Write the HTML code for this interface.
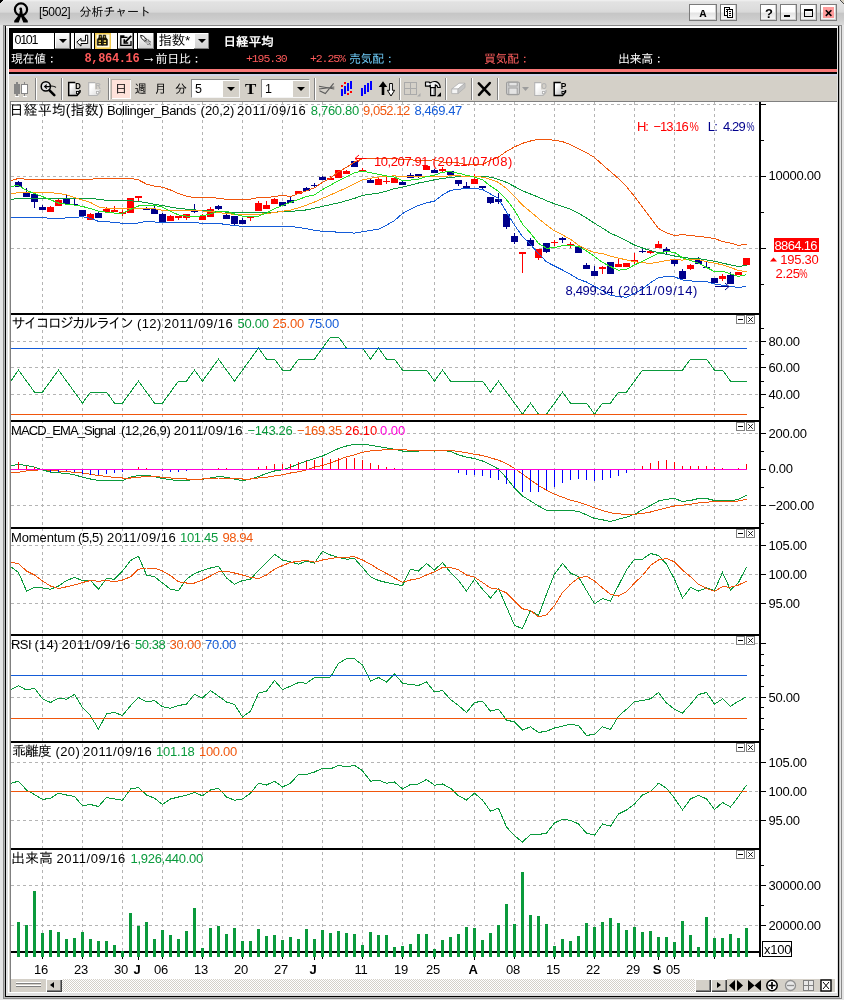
<!DOCTYPE html>
<html lang="ja"><head><meta charset="utf-8"><title>[5002] 分析チャート</title>
<style>
html,body{margin:0;padding:0;}
body{width:844px;height:1000px;overflow:hidden;background:#d4d0c8;position:relative;
font-family:"Liberation Sans","IPAGothic",sans-serif;font-size:13px;color:#000;}
.a{position:absolute;}

#tb{left:0;top:0;width:844px;height:25px;background:linear-gradient(#f2f2f2 0,#e2e2e2 2px,#dedede 8px,#d8d8d8 12px,#c6c6c6 13.5px,#cccccc 19px,#dadada 25px);}
#frame{left:0;top:25px;width:844px;height:975px;background:#e4e4e4;}
.wb{top:4px;height:15px;background:linear-gradient(#ffffff 0,#fdfdfd 45%,#e4e4e4 55%,#f8f8f8 100%);border:1px solid #7b7b7b;box-sizing:border-box;height:17px;box-shadow:inset -1px -1px 0 #d0d0d0;}
#info{left:9px;top:28px;width:828px;height:46px;background:#000;}
#redl{left:9px;top:69px;width:828px;height:3px;background:#f87878;}
#lav{left:9px;top:74px;width:828px;height:2px;background:#d0d3e8;}
#tool{left:9px;top:76px;width:828px;height:25px;background:#d4d0c8;}
.t{position:absolute;white-space:pre;line-height:1;}
.btn{position:absolute;top:33px;height:16px;background:linear-gradient(#ffffff,#e8e8e8 50%,#d0d0d0);box-shadow:inset -1px -1px 0 #808080, inset 1px 1px 0 #fff;}
.wsep{position:absolute;top:33px;height:16px;background:#fff;}
.sep{position:absolute;top:78px;width:1px;height:22px;background:#808080;box-shadow:1px 0 0 #fff;}
.cmb{position:absolute;top:79px;height:19px;background:#fff;box-sizing:border-box;border:1px solid #8a8a8a;border-right-color:#f4f4f4;border-bottom-color:#f4f4f4;}
.dd{position:absolute;top:1px;right:0px;width:16px;height:16px;background:#d4d0c8;}
.dd:after{content:"";position:absolute;left:4px;top:6px;border:4px solid transparent;border-top:4px solid #000;border-bottom:0;}
.arr:after{content:"";position:absolute;left:4px;top:6px;border:4px solid transparent;border-top:4px solid #000;border-bottom:0;}
.arr{position:absolute;}

</style></head><body>
<div class="a" id="tb"></div>
<div class="a" id="frame"></div>
<svg class="a" style="left:0;top:0" width="844" height="1000" viewBox="0 0 844 1000" shape-rendering="crispEdges"><path d="M0,0 h3 l-3,3z" fill="#000"/><path d="M844,0 h-3.5 l3.5,3.5z" fill="#d6cfc0"/><path d="M840,0 l4,4" stroke="#4a4a4a" stroke-width="1" fill="none" shape-rendering="auto"/><rect x="3.5" y="25.5" width="838" height="973" fill="none" stroke="#8a8a8a"/><path d="M4.5,26 V997.5 H839.5 V26" fill="none" stroke="#b4b4b4"/><path d="M5.5,26 V996.5 H838.5 V26" fill="none" stroke="#000"/><rect x="6" y="26" width="832" height="970" fill="#e0e0e0"/><rect x="6" y="26" width="832" height="2" fill="#fcfcfc"/><rect x="8" y="27" width="829" height="966" fill="#fff"/><rect x="9" y="76" width="828" height="916" fill="#d4d0c8"/></svg>
<svg class="a" style="left:12px;top:1px" width="20" height="23" viewBox="0 0 20 23"><circle cx="9" cy="8.5" r="6.1" fill="none" stroke="#000" stroke-width="2.2"/><circle cx="8.700" cy="8" r="1.4" fill="#000"/><path d="M8.2,8 L10,8 L10.800,13.5 L15.800,19.800 V21.5 H11.3 L9,15.5 L6.700,21.5 H2.2 V19.800 L7.2,13.5z" fill="#000"/></svg>
<div class="t " style="left:39px;top:6px;font-size:12px;color:#000;letter-spacing:-0.35px;">[5002]</div>
<div class="t " style="left:79.5px;top:6px;font-size:12px;color:#000;letter-spacing:-0.1px;">分析チャート</div>
<div class="a wb" style="left:689px;width:28px"><div class="t" style="left:9.5px;top:2px;font:bold 11.5px 'Liberation Mono',monospace">A</div></div>
<div class="a wb" style="left:720px;width:17px"><svg width="15" height="15" viewBox="0 0 15 15" style="position:absolute;left:0;top:0" shape-rendering="crispEdges"><rect x="3.5" y="2.5" width="5" height="8" fill="#fff" stroke="#000"/><rect x="6.5" y="4.5" width="5" height="8" fill="#fff" stroke="#000"/><path d="M8,6.5h2M8,8.5h2M8,10.5h2M5,4.5h1M5,6.5h1" stroke="#000"/></svg></div>
<div class="a wb" style="left:760px;width:17px"><div class="t" style="left:4px;top:1px;font:bold 13px 'Liberation Sans',sans-serif">?</div></div>
<div class="a wb" style="left:780px;width:17px"><div class="a" style="left:3px;top:10px;width:6px;height:2px;background:#000"></div></div>
<div class="a wb" style="left:800px;width:17px"><div class="a" style="left:3px;top:4px;width:9px;height:8px;border:1px solid #000;border-top-width:2px;box-sizing:border-box"></div></div>
<div class="a wb" style="left:820px;width:17px"><div class="a" style="left:2px;top:2px;width:11px;height:11px;background:#ff9c9c"></div><svg width="15" height="15" viewBox="0 0 15 15" style="position:absolute;left:0;top:0"><path d="M4.8,5.3 l5.6,5.6 M10.4,5.3 l-5.6,5.6" stroke="#000" stroke-width="1.5"/></svg></div>
<div class="a" id="info"></div><div class="a" id="redl"></div><div class="a" id="lav"></div>
<div class="a" style="left:13px;top:33px;width:41px;height:16px;background:#fff"></div>
<div class="t " style="left:14.6px;top:34.3px;font-size:12.5px;color:#000;letter-spacing:-1.35px;">0101</div>
<div class="btn" style="left:55px;width:15px"><div class="arr" style="left:0;top:0"></div></div>
<div class="wsep" style="left:71px;width:3px"></div>
<div class="btn" style="left:75px;width:16px"></div>
<div class="wsep" style="left:92px;width:2px"></div>
<div class="btn" style="left:95px;width:16px;background:#fffbe0;box-shadow:inset 0 0 0 1.5px #f4cc50"></div>
<div class="wsep" style="left:111px;width:6px"></div>
<div class="btn" style="left:118px;width:15px"></div>
<div class="wsep" style="left:134px;width:3px"></div>
<div class="btn" style="left:138px;width:16px"></div>
<svg class="a" style="left:0;top:0" width="220" height="52" viewBox="0 0 220 52"><path d="M85.5,35.2 h2.2 v8.3 h-6.700 v2.6 l-4.2,-3.900 l4.2,-3.900 v2.6 h4.5z" fill="#fff" stroke="#000" stroke-width="1"/><path d="M97.3,45.3 v-5.800 l1.700,-2.3 v-2 h2.6 v2 l1,1.4 v6.700z M107.4,45.3 v-5.800 l-1.700,-2.3 v-2 h-2.6 v2 l-1,1.4 v6.700z" fill="#1a1400" stroke="#000" stroke-width="0.6"/><path d="M98.6,40.3 h2.4 v1.5 h-2.4z M103.700,40.3 h2.4 v1.5 h-2.4z M98.6,43 h2.4 v1.3 h-2.4z M103.700,43 h2.4 v1.3 h-2.4z M99.800,36.3 h1 v1.2 h-1z M103.900,36.3 h1 v1.2 h-1z" fill="#ffe468"/><path d="M120.800,37.3 v-1.3 h3 v1.3 M127.5,37.3 H120.800 V45.3 H131 V41" fill="none" stroke="#000" stroke-width="1.3"/><path d="M131.3,35.800 L125.5,41.800 M124.3,39.3 V43 H128.2" fill="none" stroke="#000" stroke-width="1.700"/><path d="M140.6,35.3 l2.800,0.700 l3,3.4 l-1.700,1.700 l-3.4,-3z" fill="#fff" stroke="#000" stroke-width="0.900"/><path d="M144.5,39 l6.5,6.3 M146.5,39 l4.5,4.3 M144.5,41 l4.5,4.5 M148,39.5 l3,3" stroke="#202020" stroke-width="1" stroke-dasharray="1.2,0.900" fill="none"/></svg>
<div class="a" style="left:157px;top:33px;width:37px;height:16px;background:#fff"></div>
<div class="t " style="left:158.5px;top:34px;font-size:13.5px;color:#000;letter-spacing:-0.2px;">指数*</div>
<div class="btn" style="left:194px;width:15px;background:linear-gradient(#e8e8e8,#d0d0d0)"><div class="arr" style="left:0;top:0"></div></div>
<div class="t " style="left:223.5px;top:35.5px;font-size:12.5px;color:#fff;font-weight:bold;letter-spacing:0.1px;">日経平均</div>
<div class="t " style="left:11px;top:53px;font-size:12px;color:#fff;letter-spacing:-0.4px;">現在値：</div>
<div class="t " style="left:84.5px;top:52.5px;font-size:12px;color:#ff5a5a;font-weight:bold;font-family:'Liberation Mono',monospace;letter-spacing:-0.35px;">8,864.16</div>
<div class="t " style="left:141.5px;top:50.2px;font-size:14.5px;color:#fff;">→</div>
<div class="t " style="left:155.5px;top:53px;font-size:12px;color:#fff;letter-spacing:-0.3px;">前日比：</div>
<div class="t " style="left:246px;top:53px;font-size:11.5px;color:#ff5a5a;font-family:'Liberation Mono',monospace;letter-spacing:-1.1px;">+195.30</div>
<div class="t " style="left:310px;top:53px;font-size:11.5px;color:#ff5a5a;font-family:'Liberation Mono',monospace;letter-spacing:-1.1px;">+2.25%</div>
<div class="t " style="left:349px;top:53px;font-size:12px;color:#6cc8f4;letter-spacing:-0.4px;">売気配：</div>
<div class="t " style="left:484px;top:53px;font-size:12px;color:#f85c5c;letter-spacing:-0.4px;">買気配：</div>
<div class="t " style="left:618px;top:53px;font-size:12px;color:#fff;letter-spacing:-0.4px;">出来高：</div>
<div class="a" id="tool"></div>
<div class="sep" style="left:35px"></div>
<div class="sep" style="left:61px"></div>
<div class="sep" style="left:108px"></div>
<div class="sep" style="left:314px"></div>
<div class="sep" style="left:399px"></div>
<div class="sep" style="left:445px"></div>
<div class="sep" style="left:471px"></div>
<div class="sep" style="left:497px"></div>
<svg class="a" style="left:0;top:0" width="844" height="104" viewBox="0 0 844 104"><defs><linearGradient id="pg" x1="0" y1="0" x2="1" y2="1"><stop offset="0.25" stop-color="#fff"/><stop offset="1" stop-color="#a8a8a8"/></linearGradient><linearGradient id="pgd" x1="0" y1="0" x2="1" y2="1"><stop offset="0.3" stop-color="#fff"/><stop offset="1" stop-color="#d8d8d8"/></linearGradient></defs><g shape-rendering="crispEdges"><rect x="16" y="82" width="2" height="14" fill="#868686"/><rect x="14" y="84" width="6" height="10" fill="#868686"/><rect x="24" y="82" width="1" height="14" fill="#868686"/><rect x="21.5" y="84.5" width="6" height="9" fill="#fff" stroke="#868686"/><rect x="15" y="96" width="4" height="1" fill="#fff"/><rect x="23" y="96" width="4" height="1" fill="#fff"/></g><circle cx="45.800" cy="86.4" r="4.6" fill="#e4e4e4" stroke="#000" stroke-width="1.5"/><path d="M49.5,90.3 l4.800,4.800" stroke="#000" stroke-width="2.6" stroke-linecap="round"/><path d="M44.800,86.6 h4 q4,-1.5 7.2,0.800 M46.800,84.6 l-2.2,2 l2.2,2" stroke="#000" stroke-width="1.1" fill="none"/><path d="M68.7,82.6 H75 V89.5 H80 V92 L77,95.5 H68.7z" fill="url(#pg)" stroke="none"/><path d="M75.3,82.6 H68.7 V95.5 H77 L80,92 V90" fill="none" stroke="#000" stroke-width="1.5"/><rect x="76.5" y="91.5" width="2.2" height="2.2" fill="#fff" stroke="#000" stroke-width="0.900"/><text x="75.3" y="89.3" font-family="'Liberation Sans',sans-serif" font-weight="bold" font-size="9.5" fill="#000" textLength="5.6" lengthAdjust="spacingAndGlyphs">D</text><path d="M88.7,82.6 H95 V89.5 H100 V92 L97,95.5 H88.7z" fill="url(#pgd)" stroke="none"/><path d="M95.3,82.6 H88.7 V95.5 H97 L100,92 V90" fill="none" stroke="#b4b4b4" stroke-width="1.1"/><rect x="96.5" y="91.5" width="2.2" height="2.2" fill="#fff" stroke="#b4b4b4" stroke-width="0.900"/><text x="95.3" y="89.3" font-family="'Liberation Sans',sans-serif" font-weight="bold" font-size="9.5" fill="#b4b4b4" textLength="5.6" lengthAdjust="spacingAndGlyphs">R</text><path d="M534.7,82.6 H541 V89.5 H546 V92 L543,95.5 H534.7z" fill="url(#pgd)" stroke="none"/><path d="M541.3,82.6 H534.7 V95.5 H543 L546,92 V90" fill="none" stroke="#b4b4b4" stroke-width="1.1"/><rect x="542.5" y="91.5" width="2.2" height="2.2" fill="#fff" stroke="#b4b4b4" stroke-width="0.900"/><text x="541.3" y="89.3" font-family="'Liberation Sans',sans-serif" font-weight="bold" font-size="9.5" fill="#b4b4b4" textLength="5.6" lengthAdjust="spacingAndGlyphs">O</text><path d="M554.2,82.6 H560.5 V89.5 H565.5 V92 L562.5,95.5 H554.2z" fill="url(#pg)" stroke="none"/><path d="M560.8,82.6 H554.2 V95.5 H562.5 L565.5,92 V90" fill="none" stroke="#000" stroke-width="1.5"/><rect x="562.0" y="91.5" width="2.2" height="2.2" fill="#fff" stroke="#000" stroke-width="0.900"/><text x="560.8" y="89.3" font-family="'Liberation Sans',sans-serif" font-weight="bold" font-size="9.5" fill="#000" textLength="5.6" lengthAdjust="spacingAndGlyphs">P</text><path d="M319,86.3 L334.3,89 M319,89 L334.3,87 M319.5,90.800 L325.3,93.6 L333.6,83.3" stroke="#5a5a5a" stroke-width="1.1" fill="none"/><g shape-rendering="crispEdges" fill="#0000ff"><rect x="341" y="89" width="2" height="7"/><rect x="344" y="86" width="2" height="8"/><rect x="347" y="83" width="2" height="8"/><rect x="350" y="81" width="2" height="8"/><rect x="361" y="88" width="2" height="8"/><rect x="364" y="85" width="2" height="9"/><rect x="367" y="83" width="2" height="9"/><rect x="370" y="81" width="2" height="9"/></g><g shape-rendering="crispEdges" fill="#ff0000"><rect x="341" y="85" width="2" height="2"/><rect x="344" y="82" width="2" height="2"/><rect x="347" y="93" width="2" height="2"/><rect x="350" y="91" width="2" height="2"/></g><path d="M383,81.3 l4.3,5.700 h-3 v8 h-2.6 v-8 h-3z" fill="#000"/><path d="M391,96 l-3.6,-5.700 h2.2 v-6.800 h2.800 v6.800 h2.2z" fill="#fff" stroke="#000" stroke-width="1"/><g shape-rendering="crispEdges"><rect x="404.5" y="82.5" width="12" height="12" fill="none" stroke="#aaa"/><path d="M410.5,82 v13 M404,88.5 h13" stroke="#aaa" fill="none"/></g><path d="M420.5,93 v3.5 h-3.5z" fill="#aaa"/><path d="M425.5,82 h3.5 l1,1 q3,-2 6,-1.3 q3.5,1 4.3,5.6 l-2.5,0.2 q-0.5,-2.3 -2.5,-2.6 v2.6 h-5 v-2.3 l-1.3,1 h-3.5z" fill="#f0f0f0" stroke="#000" stroke-width="1.2" stroke-linejoin="round"/><rect x="430.6" y="87.6" width="4.6" height="8" fill="#b8b8b8" stroke="#000" stroke-width="1.2"/><rect x="431.5" y="88.5" width="1.5" height="6" fill="#f4f4f4"/><path d="M441,92.3 v4.2 h-4.2z" fill="#000"/><path d="M451.700,89 L459,83.2 H465 L458,89z" fill="#fdfdfd" stroke="#b0b0b0" stroke-width="0.800"/><path d="M451.700,89 H458 V93.6 H451.700z" fill="#f4f4f4" stroke="#b0b0b0" stroke-width="0.800"/><path d="M458,89 L465,83.2 V87.6 L458,93.6z" fill="#c4c4c4" stroke="#b0b0b0" stroke-width="0.800"/><path d="M478.800,83.3 L489.6,94.6 M489.800,83 L479,94.800" stroke="#000" stroke-width="2.5" stroke-linecap="round"/><rect x="506.6" y="82" width="12.800" height="12.6" rx="1.5" fill="#d8d8d8" stroke="#9c9c9c" stroke-width="1.2"/><rect x="508.800" y="82.3" width="8.4" height="3.700" fill="#e4e4e4" stroke="#9c9c9c" stroke-width="1"/><rect x="508.800" y="88" width="8.4" height="6.4" fill="#e4e4e4" stroke="#9c9c9c" stroke-width="1"/><path d="M522,87 h7 l-3.5,4z" fill="#9c9c9c"/></svg>
<div class="a" style="left:111px;top:79px;width:20px;height:20px;background:#ffe2da;box-shadow:inset 1px 1px 0 #b8b0a8,inset -1px -1px 0 #fff"></div>
<div class="t " style="left:115px;top:83px;font-size:12px;color:#000;">日</div>
<div class="t " style="left:134.5px;top:83px;font-size:12px;color:#000;">週</div>
<div class="t " style="left:154.5px;top:83px;font-size:12px;color:#000;">月</div>
<div class="t " style="left:175px;top:83px;font-size:12px;color:#000;">分</div>
<div class="cmb" style="left:191px;width:49px"><div class="dd"></div></div>
<div class="t " style="left:195px;top:83px;font-size:12.5px;color:#000;">5</div>
<svg class="a" style="left:240px;top:78px" width="22" height="22" viewBox="240 78 22 22"><text x="245" y="93.800" font-family="'Liberation Serif',serif" font-weight="bold" font-size="15.5" textLength="11.3" lengthAdjust="spacingAndGlyphs">T</text></svg>
<div class="cmb" style="left:261px;width:49px"><div class="dd"></div></div>
<div class="t " style="left:265px;top:83px;font-size:12.5px;color:#000;">1</div>
<div class="a" style="left:11px;top:979px;width:824px;height:13px;background:#d4d0c8"></div><div class="a" style="left:835px;top:979px;width:2px;height:13px;background:#fff"></div>
<div class="a" style="left:62px;top:979px;width:633px;height:13px;background:#e6e3dc;background-image:repeating-conic-gradient(#d4d0c8 0% 25%, #fff 0% 50%);background-size:2px 2px"></div>
<div class="a" style="left:16px;top:983px;width:25px;height:1px;background:#808080;box-shadow:0 -1px 0 #fff,0 3px 0 #808080,0 2px 0 #fff"></div>
<div class="a" style="left:46px;top:979px;width:16px;height:13px;background:#d4d0c8;box-shadow:inset 1px 1px 0 #fff,inset -1px -1px 0 #404040,inset -2px -2px 0 #808080"><div class="a" style="left:4px;top:3px;border:3.5px solid transparent;border-right:4px solid #000;border-left:0"></div></div>
<div class="a" style="left:695px;top:979px;width:16px;height:13px;background:#d4d0c8;box-shadow:inset 1px 1px 0 #fff,inset -1px -1px 0 #404040,inset -2px -2px 0 #808080"></div>
<div class="a" style="left:711px;top:979px;width:16px;height:13px;background:#d4d0c8;box-shadow:inset 1px 1px 0 #fff,inset -1px -1px 0 #404040,inset -2px -2px 0 #808080"><div class="a" style="left:6px;top:3px;border:3.5px solid transparent;border-left:4px solid #000;border-right:0"></div></div>
<svg class="a" style="left:728px;top:979px" width="108" height="13" viewBox="0 0 108 13"><path d="M1,6.5 l6,-5.5 v11z M15,6.5 l-6,-5.5 v11z" fill="#000"/><path d="M20,1 l6.5,5.5 l-6.5,5.5z M33,1 l-6.5,5.5 l6.5,5.5z" fill="#000"/><circle cx="44" cy="6.5" r="5.2" fill="#fff" stroke="#000" stroke-width="1.5"/><path d="M40.5,6.5 h7 M44,3 v7" stroke="#000" stroke-width="1.700"/><circle cx="62.5" cy="6.5" r="5" fill="#e8e8e8" stroke="#909090" stroke-width="1.3"/><path d="M59,6.5 h7" stroke="#909090" stroke-width="1.3"/><rect x="75.5" y="1.5" width="10" height="10" fill="#e8e8e8" stroke="#808080"/><path d="M80.5,2 v10 M76,6.5 h10" stroke="#808080"/><rect x="93" y="1" width="10" height="11" fill="#fff" stroke="#000" stroke-width="1.4"/><path d="M95,3 l6,7 M101,3 l-6,7" stroke="#000" stroke-width="1"/></svg>
<svg class="a" id="chart" style="left:0;top:0" width="844" height="1000" viewBox="0 0 844 1000" font-family="'Liberation Sans','IPAGothic',sans-serif" font-size="13">
<rect x="11" y="102" width="826" height="877" fill="#fff"/>
<rect x="10" y="101" width="1" height="891" fill="#808080"/>
<rect x="10" y="101" width="827" height="1" fill="#808080"/>
<g stroke="#b4b4b4" stroke-width="1" stroke-dasharray="3,3" fill="none" shape-rendering="crispEdges">
<line x1="42.5" y1="102" x2="42.5" y2="951"/>
<line x1="82.5" y1="102" x2="82.5" y2="951"/>
<line x1="122.5" y1="102" x2="122.5" y2="951"/>
<line x1="162.5" y1="102" x2="162.5" y2="951"/>
<line x1="202.5" y1="102" x2="202.5" y2="951"/>
<line x1="242.5" y1="102" x2="242.5" y2="951"/>
<line x1="282.5" y1="102" x2="282.5" y2="951"/>
<line x1="322.5" y1="102" x2="322.5" y2="951"/>
<line x1="362.5" y1="102" x2="362.5" y2="951"/>
<line x1="402.5" y1="102" x2="402.5" y2="951"/>
<line x1="434.5" y1="102" x2="434.5" y2="951"/>
<line x1="474.5" y1="102" x2="474.5" y2="951"/>
<line x1="514.5" y1="102" x2="514.5" y2="951"/>
<line x1="554.5" y1="102" x2="554.5" y2="951"/>
<line x1="594.5" y1="102" x2="594.5" y2="951"/>
<line x1="634.5" y1="102" x2="634.5" y2="951"/>
<line x1="674.5" y1="102" x2="674.5" y2="951"/>
<line x1="714.5" y1="102" x2="714.5" y2="951"/>
<line x1="11" y1="104.5" x2="759" y2="104.5"/>
<line x1="11" y1="176.5" x2="759" y2="176.5"/>
<line x1="11" y1="248.5" x2="759" y2="248.5"/>
<line x1="11" y1="341.5" x2="759" y2="341.5"/>
<line x1="11" y1="367.5" x2="759" y2="367.5"/>
<line x1="11" y1="394.5" x2="759" y2="394.5"/>
<line x1="11" y1="433.5" x2="759" y2="433.5"/>
<line x1="11" y1="505.5" x2="759" y2="505.5"/>
<line x1="11" y1="545.5" x2="759" y2="545.5"/>
<line x1="11" y1="574.5" x2="759" y2="574.5"/>
<line x1="11" y1="603.5" x2="759" y2="603.5"/>
<line x1="11" y1="643.5" x2="759" y2="643.5"/>
<line x1="11" y1="697.5" x2="759" y2="697.5"/>
<line x1="11" y1="762.5" x2="759" y2="762.5"/>
<line x1="11" y1="791.5" x2="759" y2="791.5"/>
<line x1="11" y1="820.5" x2="759" y2="820.5"/>
<line x1="11" y1="885.5" x2="759" y2="885.5"/>
<line x1="11" y1="925.5" x2="759" y2="925.5"/>
</g>
<g shape-rendering="crispEdges">
<rect x="18.0" y="181" width="1" height="6" fill="#00008c"/>
<rect x="15.0" y="182" width="7" height="5" fill="#00008c"/>
<rect x="26.0" y="188" width="1" height="9" fill="#00008c"/>
<rect x="23.0" y="192" width="7" height="5" fill="#00008c"/>
<rect x="34.0" y="194" width="1" height="14" fill="#00008c"/>
<rect x="31.0" y="194" width="7" height="8" fill="#00008c"/>
<rect x="42.0" y="205" width="1" height="5" fill="#00008c"/>
<rect x="39.0" y="207" width="7" height="3" fill="#00008c"/>
<rect x="50.0" y="206" width="1" height="6" fill="#ff0000"/>
<rect x="47.0" y="207" width="7" height="5" fill="#ff0000"/>
<rect x="58.0" y="199" width="1" height="7" fill="#ff0000"/>
<rect x="55.0" y="200" width="7" height="6" fill="#ff0000"/>
<rect x="66.0" y="195" width="1" height="9" fill="#00008c"/>
<rect x="63.0" y="198" width="7" height="6" fill="#00008c"/>
<rect x="74.0" y="199" width="1" height="6" fill="#00008c"/>
<rect x="71.0" y="204" width="7" height="1" fill="#00008c"/>
<rect x="79.0" y="210" width="7" height="6" fill="#00008c"/>
<rect x="90.0" y="213" width="1" height="7" fill="#ff0000"/>
<rect x="87.0" y="214" width="7" height="6" fill="#ff0000"/>
<rect x="98.0" y="212" width="1" height="6" fill="#00008c"/>
<rect x="95.0" y="213" width="7" height="5" fill="#00008c"/>
<rect x="106.0" y="207" width="1" height="5" fill="#ff0000"/>
<rect x="103.0" y="209" width="7" height="3" fill="#ff0000"/>
<rect x="114.0" y="206" width="1" height="6" fill="#ff0000"/>
<rect x="111.0" y="210" width="7" height="2" fill="#ff0000"/>
<rect x="122.0" y="210" width="1" height="6" fill="#ff0000"/>
<rect x="119.0" y="212" width="7" height="2" fill="#ff0000"/>
<rect x="127.0" y="198" width="7" height="15" fill="#ff0000"/>
<rect x="138.0" y="196" width="1" height="5" fill="#ff0000"/>
<rect x="135.0" y="196" width="7" height="2" fill="#ff0000"/>
<rect x="146.0" y="207" width="1" height="3" fill="#00008c"/>
<rect x="143.0" y="209" width="7" height="1" fill="#00008c"/>
<rect x="154.0" y="206" width="1" height="8" fill="#00008c"/>
<rect x="151.0" y="209" width="7" height="5" fill="#00008c"/>
<rect x="162.0" y="213" width="1" height="9" fill="#00008c"/>
<rect x="159.0" y="214" width="7" height="8" fill="#00008c"/>
<rect x="170.0" y="215" width="1" height="6" fill="#ff0000"/>
<rect x="167.0" y="216" width="7" height="5" fill="#ff0000"/>
<rect x="178.0" y="216" width="1" height="4" fill="#ff0000"/>
<rect x="175.0" y="216" width="7" height="2" fill="#ff0000"/>
<rect x="186.0" y="214" width="1" height="6" fill="#ff0000"/>
<rect x="183.0" y="214" width="7" height="4" fill="#ff0000"/>
<rect x="194.0" y="204" width="1" height="9" fill="#00008c"/>
<rect x="191.0" y="210" width="7" height="2" fill="#00008c"/>
<rect x="202.0" y="214" width="1" height="6" fill="#ff0000"/>
<rect x="199.0" y="216" width="7" height="4" fill="#ff0000"/>
<rect x="210.0" y="207" width="1" height="10" fill="#ff0000"/>
<rect x="207.0" y="209" width="7" height="8" fill="#ff0000"/>
<rect x="218.0" y="205" width="1" height="5" fill="#00008c"/>
<rect x="215.0" y="206" width="7" height="3" fill="#00008c"/>
<rect x="226.0" y="213" width="1" height="6" fill="#00008c"/>
<rect x="223.0" y="215" width="7" height="4" fill="#00008c"/>
<rect x="234.0" y="216" width="1" height="10" fill="#00008c"/>
<rect x="231.0" y="216" width="7" height="8" fill="#00008c"/>
<rect x="242.0" y="218" width="1" height="6" fill="#00008c"/>
<rect x="239.0" y="220" width="7" height="4" fill="#00008c"/>
<rect x="250.0" y="216" width="1" height="5" fill="#ff0000"/>
<rect x="247.0" y="216" width="7" height="2" fill="#ff0000"/>
<rect x="258.0" y="201" width="1" height="10" fill="#ff0000"/>
<rect x="255.0" y="203" width="7" height="8" fill="#ff0000"/>
<rect x="266.0" y="201" width="1" height="8" fill="#ff0000"/>
<rect x="263.0" y="205" width="7" height="4" fill="#ff0000"/>
<rect x="274.0" y="198" width="1" height="6" fill="#ff0000"/>
<rect x="271.0" y="199" width="7" height="5" fill="#ff0000"/>
<rect x="279.0" y="202" width="7" height="4" fill="#00008c"/>
<rect x="290.0" y="197" width="1" height="6" fill="#00008c"/>
<rect x="287.0" y="200" width="7" height="3" fill="#00008c"/>
<rect x="295.0" y="191" width="7" height="3" fill="#ff0000"/>
<rect x="306.0" y="187" width="1" height="4" fill="#00008c"/>
<rect x="303.0" y="188" width="7" height="3" fill="#00008c"/>
<rect x="314.0" y="183" width="1" height="5" fill="#00008c"/>
<rect x="311.0" y="185" width="7" height="1" fill="#00008c"/>
<rect x="322.0" y="176" width="1" height="4" fill="#00008c"/>
<rect x="319.0" y="177" width="7" height="3" fill="#00008c"/>
<rect x="330.0" y="176" width="1" height="4" fill="#ff0000"/>
<rect x="327.0" y="178" width="7" height="2" fill="#ff0000"/>
<rect x="335.0" y="170" width="7" height="8" fill="#ff0000"/>
<rect x="346.0" y="170" width="1" height="4" fill="#ff0000"/>
<rect x="343.0" y="171" width="7" height="3" fill="#ff0000"/>
<rect x="351.0" y="161" width="7" height="6" fill="#00008c"/>
<rect x="362.0" y="168" width="1" height="4" fill="#ff0000"/>
<rect x="359.0" y="170" width="7" height="1" fill="#ff0000"/>
<rect x="370.0" y="178" width="1" height="5" fill="#00008c"/>
<rect x="367.0" y="180" width="7" height="3" fill="#00008c"/>
<rect x="378.0" y="178" width="1" height="7" fill="#ff0000"/>
<rect x="375.0" y="179" width="7" height="6" fill="#ff0000"/>
<rect x="386.0" y="177" width="1" height="7" fill="#ff0000"/>
<rect x="383.0" y="181" width="7" height="1" fill="#ff0000"/>
<rect x="391.0" y="178" width="7" height="5" fill="#ff0000"/>
<rect x="402.0" y="180" width="1" height="5" fill="#00008c"/>
<rect x="399.0" y="182" width="7" height="3" fill="#00008c"/>
<rect x="410.0" y="173" width="1" height="5" fill="#00008c"/>
<rect x="407.0" y="175" width="7" height="3" fill="#00008c"/>
<rect x="418.0" y="174" width="1" height="4" fill="#00008c"/>
<rect x="415.0" y="174" width="7" height="3" fill="#00008c"/>
<rect x="426.0" y="165" width="1" height="5" fill="#ff0000"/>
<rect x="423.0" y="166" width="7" height="4" fill="#ff0000"/>
<rect x="434.0" y="169" width="1" height="4" fill="#00008c"/>
<rect x="431.0" y="170" width="7" height="3" fill="#00008c"/>
<rect x="442.0" y="167" width="1" height="6" fill="#ff0000"/>
<rect x="439.0" y="169" width="7" height="2" fill="#ff0000"/>
<rect x="447.0" y="171" width="7" height="4" fill="#00008c"/>
<rect x="458.0" y="180" width="1" height="6" fill="#00008c"/>
<rect x="455.0" y="180" width="7" height="4" fill="#00008c"/>
<rect x="466.0" y="182" width="1" height="7" fill="#00008c"/>
<rect x="463.0" y="186" width="7" height="3" fill="#00008c"/>
<rect x="474.0" y="174" width="1" height="10" fill="#ff0000"/>
<rect x="471.0" y="179" width="7" height="5" fill="#ff0000"/>
<rect x="482.0" y="186" width="1" height="4" fill="#00008c"/>
<rect x="479.0" y="186" width="7" height="2" fill="#00008c"/>
<rect x="490.0" y="197" width="1" height="7" fill="#00008c"/>
<rect x="487.0" y="197" width="7" height="6" fill="#00008c"/>
<rect x="498.0" y="193" width="1" height="11" fill="#00008c"/>
<rect x="495.0" y="199" width="7" height="3" fill="#00008c"/>
<rect x="506.0" y="214" width="1" height="15" fill="#00008c"/>
<rect x="503.0" y="214" width="7" height="13" fill="#00008c"/>
<rect x="514.0" y="233" width="1" height="11" fill="#00008c"/>
<rect x="511.0" y="236" width="7" height="6" fill="#00008c"/>
<rect x="522.0" y="252" width="1" height="21" fill="#ff0000"/>
<rect x="519.0" y="252" width="7" height="2" fill="#ff0000"/>
<rect x="530.0" y="238" width="1" height="8" fill="#00008c"/>
<rect x="527.0" y="240" width="7" height="6" fill="#00008c"/>
<rect x="538.0" y="249" width="1" height="11" fill="#ff0000"/>
<rect x="535.0" y="249" width="7" height="9" fill="#ff0000"/>
<rect x="546.0" y="243" width="1" height="10" fill="#00008c"/>
<rect x="543.0" y="243" width="7" height="9" fill="#00008c"/>
<rect x="554.0" y="240" width="1" height="6" fill="#ff0000"/>
<rect x="551.0" y="242" width="7" height="1" fill="#ff0000"/>
<rect x="562.0" y="237" width="1" height="6" fill="#00008c"/>
<rect x="559.0" y="238" width="7" height="2" fill="#00008c"/>
<rect x="570.0" y="242" width="1" height="6" fill="#ff0000"/>
<rect x="567.0" y="244" width="7" height="1" fill="#ff0000"/>
<rect x="575.0" y="246" width="7" height="7" fill="#00008c"/>
<rect x="586.0" y="263" width="1" height="6" fill="#00008c"/>
<rect x="583.0" y="265" width="7" height="4" fill="#00008c"/>
<rect x="594.0" y="266" width="1" height="10" fill="#00008c"/>
<rect x="591.0" y="271" width="7" height="5" fill="#00008c"/>
<rect x="602.0" y="266" width="1" height="8" fill="#ff0000"/>
<rect x="599.0" y="267" width="7" height="2" fill="#ff0000"/>
<rect x="607.0" y="262" width="7" height="12" fill="#00008c"/>
<rect x="618.0" y="259" width="1" height="8" fill="#ff0000"/>
<rect x="615.0" y="264" width="7" height="3" fill="#ff0000"/>
<rect x="623.0" y="263" width="7" height="4" fill="#ff0000"/>
<rect x="634.0" y="253" width="1" height="12" fill="#ff0000"/>
<rect x="631.0" y="260" width="7" height="2" fill="#ff0000"/>
<rect x="642.0" y="249" width="1" height="4" fill="#00008c"/>
<rect x="639.0" y="251" width="7" height="1" fill="#00008c"/>
<rect x="650.0" y="251" width="1" height="3" fill="#ff0000"/>
<rect x="647.0" y="251" width="7" height="2" fill="#ff0000"/>
<rect x="658.0" y="241" width="1" height="7" fill="#ff0000"/>
<rect x="655.0" y="244" width="7" height="4" fill="#ff0000"/>
<rect x="666.0" y="247" width="1" height="7" fill="#00008c"/>
<rect x="663.0" y="249" width="7" height="3" fill="#00008c"/>
<rect x="674.0" y="260" width="1" height="6" fill="#00008c"/>
<rect x="671.0" y="260" width="7" height="4" fill="#00008c"/>
<rect x="682.0" y="269" width="1" height="10" fill="#00008c"/>
<rect x="679.0" y="271" width="7" height="8" fill="#00008c"/>
<rect x="690.0" y="264" width="1" height="6" fill="#ff0000"/>
<rect x="687.0" y="265" width="7" height="4" fill="#ff0000"/>
<rect x="698.0" y="257" width="1" height="7" fill="#00008c"/>
<rect x="695.0" y="260" width="7" height="4" fill="#00008c"/>
<rect x="706.0" y="262" width="1" height="6" fill="#00008c"/>
<rect x="703.0" y="267" width="7" height="1" fill="#00008c"/>
<rect x="711.0" y="278" width="7" height="5" fill="#00008c"/>
<rect x="722.0" y="274" width="1" height="7" fill="#ff0000"/>
<rect x="719.0" y="276" width="7" height="3" fill="#ff0000"/>
<rect x="730.0" y="272" width="1" height="12" fill="#00008c"/>
<rect x="727.0" y="275" width="7" height="9" fill="#00008c"/>
<rect x="735.0" y="272" width="7" height="3" fill="#ff0000"/>
<rect x="743.0" y="258" width="7" height="7" fill="#ff0000"/>
</g>
<polyline points="11.0,199.4 18.5,198.3 26.5,198.3 34.5,198.3 42.5,198.3 50.5,198.3 58.5,198.3 66.5,198.3 74.5,198.3 82.5,198.3 90.5,198.3 98.5,199.4 106.5,200.3 114.5,200.5 122.5,200.7 130.5,200.8 138.5,201.5 146.5,202.8 154.5,204.2 162.5,205.5 170.5,207.2 178.5,208.3 186.5,209.2 194.5,209.9 202.5,210.4 210.5,211.0 218.5,211.3 226.5,212.2 234.5,212.6 242.5,212.6 250.5,212.6 258.5,212.6 266.5,212.6 274.5,212.2 282.5,211.7 290.5,211.3 298.5,210.8 306.5,209.9 314.5,208.2 322.5,206.4 330.5,204.6 338.5,202.9 346.5,200.6 354.5,198.4 362.5,195.4 370.5,194.3 378.5,193.1 386.5,191.3 394.5,188.6 402.5,187.2 410.5,185.1 418.5,183.0 426.5,181.5 434.5,179.8 442.5,178.5 450.5,177.5 458.5,176.6 466.5,176.2 474.5,176.6 482.5,176.6 490.5,177.1 498.5,179.4 506.5,182.4 514.5,186.5 522.5,190.8 530.5,194.0 538.5,197.2 546.5,200.7 554.5,203.8 562.5,206.4 570.5,209.1 578.5,213.2 586.5,218.0 594.5,223.3 602.5,228.1 610.5,233.2 618.5,236.8 626.5,240.9 634.5,245.0 642.5,248.0 650.5,250.6 658.5,252.8 666.5,254.2 674.5,256.0 682.5,257.4 690.5,258.3 698.5,258.6 706.5,259.9 714.5,261.3 722.5,263.1 730.5,264.9 738.5,266.6 746.5,265.2" fill="none" stroke="#0a9a3c" stroke-width="1" shape-rendering="crispEdges"/>
<polyline points="11.0,180.6 18.5,178.4 26.5,179.3 34.5,179.3 42.5,179.3 50.5,179.3 58.5,179.3 66.5,179.3 74.5,179.3 82.5,179.3 90.5,179.3 98.5,178.4 106.5,178.4 114.5,178.4 122.5,178.4 130.5,178.4 138.5,179.9 146.5,184.1 154.5,186.1 162.5,187.3 170.5,190.0 178.5,193.5 186.5,196.2 194.5,197.5 202.5,197.5 210.5,197.5 218.5,198.3 226.5,199.4 234.5,199.4 242.5,199.4 250.5,199.2 258.5,197.6 266.5,197.6 274.5,196.6 282.5,195.3 290.5,196.6 298.5,193.5 306.5,190.9 314.5,187.8 322.5,182.4 330.5,178.0 338.5,171.8 346.5,167.3 354.5,162.0 362.5,158.8 370.5,158.4 378.5,158.4 386.5,158.4 394.5,158.8 402.5,159.3 410.5,159.9 418.5,160.2 426.5,160.2 434.5,159.9 442.5,162.0 450.5,162.9 458.5,162.9 466.5,164.7 474.5,165.0 482.5,164.7 490.5,160.2 498.5,157.0 506.5,151.3 514.5,146.9 522.5,143.3 530.5,141.0 538.5,139.2 546.5,139.2 554.5,140.3 562.5,141.6 570.5,144.6 578.5,148.7 586.5,152.7 594.5,157.5 602.5,164.7 610.5,171.6 618.5,178.7 626.5,186.7 634.5,196.4 642.5,207.1 650.5,217.8 658.5,228.4 666.5,232.9 674.5,235.5 682.5,234.6 690.5,235.5 698.5,236.4 706.5,237.3 714.5,238.6 722.5,241.4 730.5,243.2 738.5,245.3 746.5,244.4" fill="none" stroke="#f0560c" stroke-width="1" shape-rendering="crispEdges"/>
<polyline points="11.0,217.5 18.5,217.5 26.5,217.5 34.5,217.5 42.5,217.5 50.5,218.4 58.5,218.4 66.5,217.9 74.5,217.5 82.5,216.6 90.5,218.4 98.5,221.4 106.5,221.6 114.5,222.5 122.5,223.2 130.5,223.2 138.5,223.0 146.5,221.4 154.5,222.0 162.5,222.5 170.5,222.9 178.5,222.5 186.5,222.5 194.5,222.5 202.5,223.4 210.5,223.4 218.5,223.4 226.5,224.6 234.5,225.5 242.5,226.4 250.5,226.4 258.5,226.4 266.5,226.4 274.5,226.4 282.5,226.4 290.5,226.4 298.5,227.5 306.5,228.6 314.5,230.4 322.5,231.3 330.5,231.7 338.5,232.2 346.5,232.5 354.5,233.1 362.5,231.7 370.5,230.4 378.5,229.2 386.5,225.1 394.5,220.6 402.5,213.5 410.5,209.1 418.5,205.5 426.5,202.9 434.5,201.1 442.5,194.9 450.5,190.4 458.5,189.2 466.5,188.6 474.5,188.3 482.5,189.5 490.5,194.0 498.5,198.4 506.5,212.1 514.5,225.1 522.5,236.6 530.5,244.6 538.5,253.5 546.5,261.9 554.5,266.0 562.5,270.0 570.5,274.3 578.5,279.3 586.5,282.0 594.5,286.4 602.5,290.8 610.5,295.4 618.5,296.5 626.5,297.2 634.5,293.3 642.5,288.9 650.5,282.6 658.5,277.7 666.5,276.4 674.5,276.8 682.5,280.0 690.5,280.9 698.5,281.4 706.5,281.7 714.5,283.9 722.5,285.3 730.5,286.5 738.5,287.4 746.5,286.5" fill="none" stroke="#145cd8" stroke-width="1" shape-rendering="crispEdges"/>
<polyline points="11.0,193.5 18.5,192.7 26.5,192.3 34.5,192.3 42.5,192.3 50.5,192.7 58.5,193.5 66.5,194.8 74.5,197.6 82.5,200.1 90.5,202.4 98.5,206.9 106.5,208.3 114.5,208.6 122.5,209.0 130.5,208.6 138.5,208.3 146.5,208.3 154.5,208.6 162.5,210.4 170.5,210.4 178.5,210.4 186.5,210.4 194.5,210.8 202.5,211.0 210.5,211.3 218.5,212.6 226.5,213.6 234.5,214.3 242.5,214.9 250.5,214.9 258.5,214.3 266.5,213.6 274.5,212.6 282.5,211.3 290.5,210.1 298.5,207.8 306.5,205.1 314.5,202.0 322.5,198.4 330.5,194.9 338.5,191.3 346.5,187.8 354.5,183.9 362.5,179.8 370.5,178.3 378.5,177.1 386.5,176.2 394.5,175.9 402.5,176.6 410.5,176.7 418.5,176.7 426.5,176.7 434.5,176.6 442.5,176.2 450.5,175.9 458.5,175.9 466.5,176.2 474.5,176.7 482.5,177.1 490.5,179.4 498.5,182.4 506.5,188.6 514.5,196.6 522.5,205.0 530.5,211.8 538.5,218.5 546.5,225.1 554.5,230.9 562.5,234.9 570.5,239.3 578.5,245.2 586.5,249.4 594.5,252.6 602.5,253.5 610.5,256.3 618.5,258.1 626.5,259.9 634.5,261.7 642.5,262.7 650.5,263.4 658.5,262.2 666.5,260.4 674.5,259.5 682.5,260.1 690.5,259.2 698.5,259.5 706.5,261.7 714.5,263.1 722.5,264.9 730.5,267.5 738.5,270.5 746.5,271.6" fill="none" stroke="#ff9a14" stroke-width="1" shape-rendering="crispEdges"/>
<polyline points="11.0,186.4 18.5,185.5 26.5,190.5 34.5,193.5 42.5,196.6 50.5,199.8 58.5,203.0 66.5,204.2 74.5,205.1 82.5,206.5 90.5,208.6 98.5,211.3 106.5,212.2 114.5,213.1 122.5,213.1 130.5,209.5 138.5,206.0 146.5,205.5 154.5,205.5 162.5,207.2 170.5,211.3 178.5,214.9 186.5,216.1 194.5,216.5 202.5,215.8 210.5,214.0 218.5,211.3 226.5,211.3 234.5,214.0 242.5,216.1 250.5,216.8 258.5,216.1 266.5,213.1 274.5,208.6 282.5,205.5 290.5,202.4 298.5,199.4 306.5,196.6 314.5,194.9 322.5,189.5 330.5,185.1 338.5,180.7 346.5,176.6 354.5,172.7 362.5,171.2 370.5,172.7 378.5,174.4 386.5,175.9 394.5,177.1 402.5,180.7 410.5,180.1 418.5,179.2 426.5,176.6 434.5,175.3 442.5,172.1 450.5,171.8 458.5,173.2 466.5,175.3 474.5,177.1 482.5,179.8 490.5,186.0 498.5,191.3 506.5,199.7 514.5,210.0 522.5,224.2 530.5,233.1 538.5,243.4 546.5,248.2 554.5,247.7 562.5,245.5 570.5,245.5 578.5,246.4 586.5,250.9 594.5,256.5 602.5,262.4 610.5,266.6 618.5,270.2 626.5,269.3 634.5,264.9 642.5,261.3 650.5,257.4 658.5,253.3 666.5,251.5 674.5,252.4 682.5,257.7 690.5,260.4 698.5,263.1 706.5,267.5 714.5,271.6 722.5,271.1 730.5,273.7 738.5,276.4 746.5,274.6" fill="none" stroke="#22e022" stroke-width="1" shape-rendering="crispEdges"/>
<polyline points="11.0,380.8 18.5,370.1 26.5,381.1 34.5,392.1 42.5,392.1 50.5,381.1 58.5,370.1 66.5,381.1 74.5,392.1 82.5,403.1 90.5,392.1 98.5,392.1 106.5,392.1 114.5,403.1 122.5,403.1 130.5,392.1 138.5,381.1 146.5,392.1 154.5,403.1 162.5,403.1 170.5,392.1 178.5,381.1 186.5,381.1 194.5,370.1 202.5,381.1 210.5,370.1 218.5,359.1 226.5,370.1 234.5,381.1 242.5,370.1 250.5,359.1 258.5,348.1 266.5,359.1 274.5,359.1 282.5,370.1 290.5,370.1 298.5,359.1 306.5,359.1 314.5,359.1 322.5,348.1 330.5,337.1 338.5,337.1 346.5,348.1 354.5,348.1 362.5,348.1 370.5,359.1 378.5,348.1 386.5,359.1 394.5,359.1 402.5,370.1 410.5,370.1 418.5,370.1 426.5,370.1 434.5,381.1 442.5,370.1 450.5,381.1 458.5,381.1 466.5,381.1 474.5,381.1 482.5,381.1 490.5,392.1 498.5,381.1 506.5,392.1 514.5,403.1 522.5,414.1 530.5,403.1 538.5,414.1 546.5,414.1 554.5,403.1 562.5,392.1 570.5,403.1 578.5,403.1 586.5,403.1 594.5,414.1 602.5,403.1 610.5,403.1 618.5,392.1 626.5,392.1 634.5,381.1 642.5,370.1 650.5,370.1 658.5,370.1 666.5,370.1 674.5,370.1 682.5,370.1 690.5,359.1 698.5,359.1 706.5,359.1 714.5,370.1 722.5,370.1 730.5,381.1 738.5,381.1 746.5,381.1" fill="none" stroke="#0a9a3c" stroke-width="1" shape-rendering="crispEdges"/>
<rect x="11" y="348" width="735.5" height="1" fill="#145cd8" shape-rendering="crispEdges"/>
<rect x="11" y="414" width="735.5" height="1" fill="#f0560c" shape-rendering="crispEdges"/>
<polyline points="11.0,466.0 18.5,464.2 26.5,465.5 34.5,467.2 42.5,469.8 50.5,472.2 58.5,472.8 66.5,473.5 74.5,474.8 82.5,477.2 90.5,479.0 98.5,480.5 106.5,480.5 114.5,480.5 122.5,480.5 130.5,477.2 138.5,475.5 146.5,475.5 154.5,476.5 162.5,478.5 170.5,479.8 178.5,480.5 186.5,480.5 194.5,479.2 202.5,479.2 210.5,478.0 218.5,476.5 226.5,477.2 234.5,479.2 242.5,480.5 250.5,479.2 258.5,476.5 266.5,473.5 274.5,471.0 282.5,469.8 290.5,467.2 298.5,464.0 306.5,461.0 314.5,458.5 322.5,456.0 330.5,452.2 338.5,448.5 346.5,446.0 354.5,444.2 362.5,444.2 370.5,445.2 378.5,446.5 386.5,448.0 394.5,449.2 402.5,451.0 410.5,451.0 418.5,451.0 426.5,450.5 434.5,451.0 442.5,450.5 450.5,451.5 458.5,454.8 466.5,457.2 474.5,458.5 482.5,461.0 490.5,464.8 498.5,469.0 506.5,478.0 514.5,488.0 522.5,496.0 530.5,501.0 538.5,506.0 546.5,510.2 554.5,510.2 562.5,510.2 570.5,510.2 578.5,511.5 586.5,514.8 594.5,518.5 602.5,519.8 610.5,521.5 618.5,519.2 626.5,517.2 634.5,514.2 642.5,509.8 650.5,505.5 658.5,501.0 666.5,499.2 674.5,498.5 682.5,501.5 690.5,500.5 698.5,498.5 706.5,498.5 714.5,500.5 722.5,500.5 730.5,501.0 738.5,499.2 746.5,495.2" fill="none" stroke="#0a9a3c" stroke-width="1" shape-rendering="crispEdges"/>
<polyline points="11.0,473.0 18.5,472.2 26.5,471.0 34.5,470.2 42.5,469.8 50.5,470.2 58.5,471.0 66.5,471.8 74.5,472.2 82.5,473.0 90.5,474.2 98.5,475.5 106.5,476.5 114.5,477.5 122.5,478.0 130.5,478.0 138.5,477.2 146.5,476.5 154.5,476.5 162.5,477.2 170.5,478.0 178.5,478.5 186.5,479.0 194.5,479.0 202.5,479.0 210.5,478.5 218.5,478.0 226.5,478.0 234.5,478.5 242.5,479.0 250.5,479.0 258.5,478.0 266.5,477.2 274.5,476.0 282.5,474.8 290.5,473.0 298.5,471.8 306.5,469.8 314.5,467.2 322.5,465.5 330.5,463.0 338.5,459.8 346.5,456.8 354.5,454.8 362.5,452.2 370.5,451.0 378.5,450.2 386.5,449.8 394.5,449.2 402.5,449.8 410.5,450.2 418.5,450.5 426.5,450.5 434.5,450.5 442.5,450.5 450.5,450.5 458.5,451.5 466.5,452.8 474.5,454.2 482.5,455.5 490.5,457.8 498.5,460.2 506.5,463.5 514.5,468.5 522.5,474.0 530.5,479.8 538.5,485.5 546.5,490.2 554.5,494.2 562.5,497.2 570.5,500.2 578.5,502.2 586.5,504.8 594.5,507.8 602.5,510.5 610.5,512.8 618.5,513.8 626.5,514.5 634.5,514.2 642.5,513.5 650.5,512.0 658.5,509.8 666.5,507.8 674.5,506.0 682.5,505.2 690.5,504.2 698.5,503.0 706.5,502.2 714.5,501.5 722.5,501.5 730.5,501.5 738.5,501.0 746.5,499.2" fill="none" stroke="#f0560c" stroke-width="1" shape-rendering="crispEdges"/>
<g shape-rendering="crispEdges">
<rect x="18.0" y="462" width="1" height="7" fill="#ff0000"/>
<rect x="26.0" y="466" width="1" height="3" fill="#ff0000"/>
<rect x="34.0" y="467" width="1" height="2" fill="#ff0000"/>
<rect x="50.0" y="469" width="1" height="3" fill="#0000ff"/>
<rect x="58.0" y="469" width="1" height="3" fill="#0000ff"/>
<rect x="66.0" y="469" width="1" height="2" fill="#0000ff"/>
<rect x="74.0" y="469" width="1" height="3" fill="#0000ff"/>
<rect x="82.0" y="469" width="1" height="5" fill="#0000ff"/>
<rect x="90.0" y="469" width="1" height="6" fill="#0000ff"/>
<rect x="98.0" y="469" width="1" height="6" fill="#0000ff"/>
<rect x="106.0" y="469" width="1" height="5" fill="#0000ff"/>
<rect x="114.0" y="469" width="1" height="4" fill="#0000ff"/>
<rect x="122.0" y="469" width="1" height="3" fill="#0000ff"/>
<rect x="130.0" y="469" width="1" height="1" fill="#0000ff"/>
<rect x="138.0" y="467" width="1" height="2" fill="#ff0000"/>
<rect x="146.0" y="468" width="1" height="1" fill="#ff0000"/>
<rect x="162.0" y="469" width="1" height="2" fill="#0000ff"/>
<rect x="170.0" y="469" width="1" height="3" fill="#0000ff"/>
<rect x="178.0" y="469" width="1" height="3" fill="#0000ff"/>
<rect x="186.0" y="469" width="1" height="2" fill="#0000ff"/>
<rect x="194.0" y="469" width="1" height="1" fill="#0000ff"/>
<rect x="202.0" y="469" width="1" height="1" fill="#0000ff"/>
<rect x="218.0" y="468" width="1" height="1" fill="#ff0000"/>
<rect x="226.0" y="468" width="1" height="1" fill="#ff0000"/>
<rect x="234.0" y="469" width="1" height="1" fill="#0000ff"/>
<rect x="242.0" y="469" width="1" height="1" fill="#0000ff"/>
<rect x="250.0" y="469" width="1" height="1" fill="#0000ff"/>
<rect x="258.0" y="467" width="1" height="2" fill="#ff0000"/>
<rect x="266.0" y="466" width="1" height="3" fill="#ff0000"/>
<rect x="274.0" y="464" width="1" height="5" fill="#ff0000"/>
<rect x="282.0" y="464" width="1" height="5" fill="#ff0000"/>
<rect x="290.0" y="464" width="1" height="5" fill="#ff0000"/>
<rect x="298.0" y="462" width="1" height="7" fill="#ff0000"/>
<rect x="306.0" y="461" width="1" height="8" fill="#ff0000"/>
<rect x="314.0" y="460" width="1" height="9" fill="#ff0000"/>
<rect x="322.0" y="458" width="1" height="11" fill="#ff0000"/>
<rect x="330.0" y="459" width="1" height="10" fill="#ff0000"/>
<rect x="338.0" y="458" width="1" height="11" fill="#ff0000"/>
<rect x="346.0" y="458" width="1" height="11" fill="#ff0000"/>
<rect x="354.0" y="458" width="1" height="11" fill="#ff0000"/>
<rect x="362.0" y="460" width="1" height="9" fill="#ff0000"/>
<rect x="370.0" y="463" width="1" height="6" fill="#ff0000"/>
<rect x="378.0" y="465" width="1" height="4" fill="#ff0000"/>
<rect x="386.0" y="467" width="1" height="2" fill="#ff0000"/>
<rect x="394.0" y="468" width="1" height="1" fill="#ff0000"/>
<rect x="402.0" y="469" width="1" height="1" fill="#0000ff"/>
<rect x="410.0" y="469" width="1" height="1" fill="#0000ff"/>
<rect x="418.0" y="469" width="1" height="1" fill="#0000ff"/>
<rect x="434.0" y="469" width="1" height="1" fill="#0000ff"/>
<rect x="450.0" y="469" width="1" height="1" fill="#0000ff"/>
<rect x="458.0" y="469" width="1" height="4" fill="#0000ff"/>
<rect x="466.0" y="469" width="1" height="6" fill="#0000ff"/>
<rect x="474.0" y="469" width="1" height="6" fill="#0000ff"/>
<rect x="482.0" y="469" width="1" height="7" fill="#0000ff"/>
<rect x="490.0" y="469" width="1" height="9" fill="#0000ff"/>
<rect x="498.0" y="469" width="1" height="11" fill="#0000ff"/>
<rect x="506.0" y="469" width="1" height="15" fill="#0000ff"/>
<rect x="514.0" y="469" width="1" height="19" fill="#0000ff"/>
<rect x="522.0" y="469" width="1" height="23" fill="#0000ff"/>
<rect x="530.0" y="469" width="1" height="23" fill="#0000ff"/>
<rect x="538.0" y="469" width="1" height="23" fill="#0000ff"/>
<rect x="546.0" y="469" width="1" height="21" fill="#0000ff"/>
<rect x="554.0" y="469" width="1" height="18" fill="#0000ff"/>
<rect x="562.0" y="469" width="1" height="14" fill="#0000ff"/>
<rect x="570.0" y="469" width="1" height="11" fill="#0000ff"/>
<rect x="578.0" y="469" width="1" height="10" fill="#0000ff"/>
<rect x="586.0" y="469" width="1" height="11" fill="#0000ff"/>
<rect x="594.0" y="469" width="1" height="12" fill="#0000ff"/>
<rect x="602.0" y="469" width="1" height="11" fill="#0000ff"/>
<rect x="610.0" y="469" width="1" height="9" fill="#0000ff"/>
<rect x="618.0" y="469" width="1" height="7" fill="#0000ff"/>
<rect x="626.0" y="469" width="1" height="4" fill="#0000ff"/>
<rect x="642.0" y="466" width="1" height="3" fill="#ff0000"/>
<rect x="650.0" y="463" width="1" height="6" fill="#ff0000"/>
<rect x="658.0" y="461" width="1" height="8" fill="#ff0000"/>
<rect x="666.0" y="460" width="1" height="9" fill="#ff0000"/>
<rect x="674.0" y="462" width="1" height="7" fill="#ff0000"/>
<rect x="682.0" y="466" width="1" height="3" fill="#ff0000"/>
<rect x="690.0" y="466" width="1" height="3" fill="#ff0000"/>
<rect x="698.0" y="466" width="1" height="3" fill="#ff0000"/>
<rect x="706.0" y="466" width="1" height="3" fill="#ff0000"/>
<rect x="714.0" y="467" width="1" height="2" fill="#ff0000"/>
<rect x="722.0" y="468" width="1" height="1" fill="#ff0000"/>
<rect x="738.0" y="468" width="1" height="1" fill="#ff0000"/>
<rect x="746.0" y="464" width="1" height="5" fill="#ff0000"/>
</g>
<rect x="11" y="469" width="735.5" height="1" fill="#ff00d8" shape-rendering="crispEdges"/>
<polyline points="11.0,566.8 18.5,572.5 26.5,591.0 34.5,587.5 42.5,588.0 50.5,589.2 58.5,586.0 66.5,580.5 74.5,577.5 82.5,580.5 90.5,580.5 98.5,589.2 106.5,578.5 114.5,579.2 122.5,571.0 130.5,560.5 138.5,556.2 146.5,575.0 154.5,576.8 162.5,583.0 170.5,589.2 178.5,590.5 186.5,579.2 194.5,573.5 202.5,570.5 210.5,568.0 218.5,566.2 226.5,578.0 234.5,584.2 242.5,580.5 250.5,579.2 258.5,570.5 266.5,562.5 274.5,554.2 282.5,560.0 290.5,561.8 298.5,564.2 306.5,561.0 314.5,563.0 322.5,551.2 330.5,555.0 338.5,557.5 346.5,559.2 354.5,558.5 362.5,567.5 370.5,576.8 378.5,580.5 386.5,582.5 394.5,584.2 402.5,585.5 410.5,569.2 418.5,571.0 426.5,563.5 434.5,570.0 442.5,562.5 450.5,572.5 458.5,580.5 466.5,591.0 474.5,579.2 482.5,589.2 490.5,598.0 498.5,588.5 506.5,606.8 514.5,625.5 522.5,628.5 530.5,610.5 538.5,615.5 546.5,594.2 554.5,574.2 562.5,563.5 570.5,573.0 578.5,576.8 586.5,590.5 594.5,603.8 602.5,598.5 610.5,601.0 618.5,585.5 626.5,570.0 634.5,559.2 642.5,559.2 650.5,553.5 658.5,555.5 666.5,564.2 674.5,579.2 682.5,598.0 690.5,587.5 698.5,591.0 706.5,588.0 714.5,590.5 722.5,572.5 730.5,590.0 738.5,582.5 746.5,566.8" fill="none" stroke="#0a9a3c" stroke-width="1" shape-rendering="crispEdges"/>
<polyline points="11.0,562.5 18.5,563.5 26.5,571.0 34.5,575.0 42.5,581.0 50.5,586.0 58.5,588.5 66.5,586.8 74.5,585.0 82.5,582.5 90.5,580.5 98.5,581.2 106.5,580.5 114.5,581.8 122.5,580.0 130.5,576.8 138.5,569.2 146.5,568.0 154.5,568.0 162.5,571.0 170.5,575.5 178.5,581.8 186.5,583.0 194.5,583.0 202.5,580.0 210.5,576.0 218.5,571.8 226.5,571.2 234.5,573.0 242.5,575.0 250.5,577.5 258.5,578.5 266.5,575.0 274.5,569.2 282.5,565.5 290.5,562.5 298.5,561.2 306.5,560.5 314.5,562.2 322.5,560.0 330.5,558.5 338.5,557.5 346.5,557.2 354.5,556.8 362.5,560.0 370.5,564.2 378.5,569.2 386.5,573.5 394.5,578.0 402.5,582.2 410.5,580.0 418.5,578.5 426.5,575.0 434.5,571.8 442.5,567.5 450.5,567.5 458.5,569.8 466.5,575.0 474.5,577.2 482.5,582.5 490.5,588.0 498.5,589.2 506.5,593.0 514.5,601.0 522.5,608.8 530.5,610.5 538.5,616.8 546.5,615.0 554.5,605.5 562.5,592.5 570.5,584.2 578.5,578.0 586.5,576.2 594.5,581.0 602.5,588.0 610.5,594.2 618.5,596.0 626.5,591.8 634.5,583.0 642.5,575.5 650.5,565.5 658.5,560.0 666.5,558.5 674.5,561.8 682.5,570.0 690.5,576.8 698.5,584.2 706.5,588.5 714.5,591.2 722.5,586.8 730.5,587.2 738.5,585.0 746.5,581.2" fill="none" stroke="#f0560c" stroke-width="1" shape-rendering="crispEdges"/>
<polyline points="11.0,689.5 18.5,685.8 26.5,690.0 34.5,688.2 42.5,698.8 50.5,702.5 58.5,698.2 66.5,699.2 74.5,694.5 82.5,707.5 90.5,715.8 98.5,729.2 106.5,713.8 114.5,712.5 122.5,715.5 130.5,705.8 138.5,697.5 146.5,702.0 154.5,700.5 162.5,706.8 170.5,708.2 178.5,705.5 186.5,704.2 194.5,694.2 202.5,698.0 210.5,690.5 218.5,696.2 226.5,702.0 234.5,704.5 242.5,717.0 250.5,711.2 258.5,693.2 266.5,691.2 274.5,680.5 282.5,689.5 290.5,686.2 298.5,682.5 306.5,683.2 314.5,677.5 322.5,677.5 330.5,677.0 338.5,663.2 346.5,658.8 354.5,658.8 362.5,665.0 370.5,681.2 378.5,677.5 386.5,682.0 394.5,673.8 402.5,683.2 410.5,684.5 418.5,685.5 426.5,682.0 434.5,692.0 442.5,690.5 450.5,699.5 458.5,705.5 466.5,712.5 474.5,702.5 482.5,701.2 490.5,711.2 498.5,709.2 506.5,720.0 514.5,722.0 522.5,730.0 530.5,726.8 538.5,732.5 546.5,731.2 554.5,728.0 562.5,726.2 570.5,724.2 578.5,725.5 586.5,735.5 594.5,734.2 602.5,726.8 610.5,729.5 618.5,716.2 626.5,709.2 634.5,701.8 642.5,700.5 650.5,698.8 658.5,692.5 666.5,703.0 674.5,709.2 682.5,713.0 690.5,704.2 698.5,694.5 706.5,692.5 714.5,704.2 722.5,698.8 730.5,706.2 738.5,701.2 746.5,696.8" fill="none" stroke="#0a9a3c" stroke-width="1" shape-rendering="crispEdges"/>
<rect x="11" y="675" width="735.5" height="1" fill="#145cd8" shape-rendering="crispEdges"/>
<rect x="11" y="718" width="735.5" height="1" fill="#f0560c" shape-rendering="crispEdges"/>
<polyline points="11.0,783.2 18.5,781.2 26.5,790.0 34.5,794.5 42.5,799.5 50.5,798.2 58.5,793.2 66.5,795.0 74.5,796.5 82.5,805.8 90.5,804.5 98.5,806.5 106.5,797.5 114.5,799.0 122.5,800.2 130.5,789.0 138.5,787.5 146.5,795.0 154.5,798.2 162.5,804.5 170.5,799.0 178.5,797.0 186.5,795.2 194.5,792.5 202.5,795.8 210.5,790.0 218.5,788.2 226.5,797.0 234.5,800.2 242.5,799.0 250.5,793.2 258.5,783.2 266.5,785.0 274.5,781.2 282.5,787.0 290.5,783.2 298.5,774.5 306.5,774.5 314.5,772.0 322.5,768.2 330.5,769.0 338.5,765.2 346.5,767.0 354.5,765.2 362.5,770.8 370.5,781.2 378.5,780.2 386.5,783.2 394.5,782.0 402.5,789.0 410.5,784.5 418.5,784.0 426.5,779.5 434.5,785.2 442.5,784.0 450.5,788.2 458.5,795.8 466.5,800.0 474.5,793.2 482.5,800.0 490.5,811.2 498.5,808.2 506.5,827.0 514.5,835.8 522.5,842.0 530.5,834.5 538.5,834.5 546.5,833.2 554.5,822.8 562.5,819.5 570.5,820.2 578.5,824.0 586.5,833.2 594.5,835.2 602.5,824.0 610.5,826.2 618.5,814.0 626.5,810.0 634.5,804.0 642.5,795.0 650.5,791.5 658.5,783.2 666.5,788.2 674.5,798.2 682.5,810.0 690.5,799.0 698.5,795.2 706.5,799.0 714.5,809.5 722.5,802.5 730.5,807.0 738.5,796.5 746.5,785.0" fill="none" stroke="#0a9a3c" stroke-width="1" shape-rendering="crispEdges"/>
<rect x="11" y="791" width="735.5" height="1" fill="#f0560c" shape-rendering="crispEdges"/>
<g fill="#000" shape-rendering="crispEdges">
<rect x="11" y="313" width="750" height="2"/>
<rect x="11" y="420" width="750" height="2"/>
<rect x="11" y="527" width="750" height="2"/>
<rect x="11" y="634" width="750" height="2"/>
<rect x="11" y="741" width="750" height="2"/>
<rect x="11" y="848" width="750" height="2"/>
<rect x="11" y="951" width="750" height="2"/>
<rect x="759" y="102" width="2" height="855"/>
<rect x="761" y="104" width="5" height="1"/>
<rect x="761" y="176" width="5" height="1"/>
<rect x="761" y="248" width="5" height="1"/>
<rect x="761" y="140" width="3" height="1"/>
<rect x="761" y="212" width="3" height="1"/>
<rect x="761" y="284" width="3" height="1"/>
<rect x="761" y="341" width="5" height="1"/>
<rect x="761" y="367" width="5" height="1"/>
<rect x="761" y="394" width="5" height="1"/>
<rect x="761" y="328" width="3" height="1"/>
<rect x="761" y="354" width="3" height="1"/>
<rect x="761" y="381" width="3" height="1"/>
<rect x="761" y="407" width="3" height="1"/>
<rect x="761" y="433" width="5" height="1"/>
<rect x="761" y="469" width="5" height="1"/>
<rect x="761" y="505" width="5" height="1"/>
<rect x="761" y="451" width="3" height="1"/>
<rect x="761" y="487" width="3" height="1"/>
<rect x="761" y="523" width="3" height="1"/>
<rect x="761" y="545" width="5" height="1"/>
<rect x="761" y="574" width="5" height="1"/>
<rect x="761" y="603" width="5" height="1"/>
<rect x="761" y="643" width="5" height="1"/>
<rect x="761" y="697" width="5" height="1"/>
<rect x="761" y="654" width="3" height="1"/>
<rect x="761" y="665" width="3" height="1"/>
<rect x="761" y="675" width="3" height="1"/>
<rect x="761" y="686" width="3" height="1"/>
<rect x="761" y="707" width="3" height="1"/>
<rect x="761" y="718" width="3" height="1"/>
<rect x="761" y="729" width="3" height="1"/>
<rect x="761" y="762" width="5" height="1"/>
<rect x="761" y="791" width="5" height="1"/>
<rect x="761" y="820" width="5" height="1"/>
<rect x="761" y="885" width="5" height="1"/>
<rect x="761" y="925" width="5" height="1"/>
<rect x="761" y="865" width="3" height="1"/>
<rect x="761" y="905" width="3" height="1"/>
</g>
<g fill="#0a9a3c" shape-rendering="crispEdges">
<rect x="17.0" y="922" width="3" height="35"/>
<rect x="25.0" y="925" width="3" height="32"/>
<rect x="33.0" y="891" width="3" height="66"/>
<rect x="41.0" y="933" width="3" height="24"/>
<rect x="49.0" y="930" width="3" height="27"/>
<rect x="57.0" y="932" width="3" height="25"/>
<rect x="65.0" y="939" width="3" height="18"/>
<rect x="73.0" y="938" width="3" height="19"/>
<rect x="81.0" y="932" width="3" height="25"/>
<rect x="89.0" y="939" width="3" height="18"/>
<rect x="97.0" y="941" width="3" height="16"/>
<rect x="105.0" y="941" width="3" height="16"/>
<rect x="113.0" y="945" width="3" height="12"/>
<rect x="121.0" y="951" width="3" height="6"/>
<rect x="129.0" y="913" width="3" height="44"/>
<rect x="137.0" y="926" width="3" height="31"/>
<rect x="145.0" y="922" width="3" height="35"/>
<rect x="153.0" y="939" width="3" height="18"/>
<rect x="161.0" y="930" width="3" height="27"/>
<rect x="169.0" y="935" width="3" height="22"/>
<rect x="177.0" y="939" width="3" height="18"/>
<rect x="185.0" y="931" width="3" height="26"/>
<rect x="193.0" y="908" width="3" height="49"/>
<rect x="201.0" y="948" width="3" height="9"/>
<rect x="209.0" y="928" width="3" height="29"/>
<rect x="217.0" y="926" width="3" height="31"/>
<rect x="225.0" y="934" width="3" height="23"/>
<rect x="233.0" y="928" width="3" height="29"/>
<rect x="241.0" y="941" width="3" height="16"/>
<rect x="249.0" y="941" width="3" height="16"/>
<rect x="257.0" y="929" width="3" height="28"/>
<rect x="265.0" y="936" width="3" height="21"/>
<rect x="273.0" y="935" width="3" height="22"/>
<rect x="281.0" y="940" width="3" height="17"/>
<rect x="289.0" y="937" width="3" height="20"/>
<rect x="297.0" y="939" width="3" height="18"/>
<rect x="305.0" y="929" width="3" height="28"/>
<rect x="313.0" y="939" width="3" height="18"/>
<rect x="321.0" y="930" width="3" height="27"/>
<rect x="329.0" y="933" width="3" height="24"/>
<rect x="337.0" y="931" width="3" height="26"/>
<rect x="345.0" y="933" width="3" height="24"/>
<rect x="353.0" y="934" width="3" height="23"/>
<rect x="361.0" y="945" width="3" height="12"/>
<rect x="369.0" y="932" width="3" height="25"/>
<rect x="377.0" y="935" width="3" height="22"/>
<rect x="385.0" y="935" width="3" height="22"/>
<rect x="393.0" y="947" width="3" height="10"/>
<rect x="401.0" y="946" width="3" height="11"/>
<rect x="409.0" y="944" width="3" height="13"/>
<rect x="417.0" y="934" width="3" height="23"/>
<rect x="425.0" y="934" width="3" height="23"/>
<rect x="433.0" y="949" width="3" height="8"/>
<rect x="441.0" y="940" width="3" height="17"/>
<rect x="449.0" y="937" width="3" height="20"/>
<rect x="457.0" y="934" width="3" height="23"/>
<rect x="465.0" y="927" width="3" height="30"/>
<rect x="473.0" y="928" width="3" height="29"/>
<rect x="481.0" y="940" width="3" height="17"/>
<rect x="489.0" y="933" width="3" height="24"/>
<rect x="497.0" y="925" width="3" height="32"/>
<rect x="505.0" y="904" width="3" height="53"/>
<rect x="513.0" y="924" width="3" height="33"/>
<rect x="521.0" y="872" width="3" height="85"/>
<rect x="529.0" y="915" width="3" height="42"/>
<rect x="537.0" y="916" width="3" height="41"/>
<rect x="545.0" y="924" width="3" height="33"/>
<rect x="553.0" y="946" width="3" height="11"/>
<rect x="561.0" y="939" width="3" height="18"/>
<rect x="569.0" y="941" width="3" height="16"/>
<rect x="577.0" y="936" width="3" height="21"/>
<rect x="585.0" y="923" width="3" height="34"/>
<rect x="593.0" y="927" width="3" height="30"/>
<rect x="601.0" y="922" width="3" height="35"/>
<rect x="609.0" y="918" width="3" height="39"/>
<rect x="617.0" y="923" width="3" height="34"/>
<rect x="625.0" y="930" width="3" height="27"/>
<rect x="633.0" y="927" width="3" height="30"/>
<rect x="641.0" y="932" width="3" height="25"/>
<rect x="649.0" y="931" width="3" height="26"/>
<rect x="657.0" y="937" width="3" height="20"/>
<rect x="665.0" y="937" width="3" height="20"/>
<rect x="673.0" y="942" width="3" height="15"/>
<rect x="681.0" y="921" width="3" height="36"/>
<rect x="689.0" y="935" width="3" height="22"/>
<rect x="697.0" y="947" width="3" height="10"/>
<rect x="705.0" y="917" width="3" height="40"/>
<rect x="713.0" y="938" width="3" height="19"/>
<rect x="721.0" y="938" width="3" height="19"/>
<rect x="729.0" y="934" width="3" height="23"/>
<rect x="737.0" y="938" width="3" height="19"/>
<rect x="745.0" y="928" width="3" height="29"/>
</g>
<g fill="#000" shape-rendering="crispEdges">
<rect x="42.0" y="957" width="1" height="2"/>
<rect x="82.0" y="957" width="1" height="2"/>
<rect x="122.0" y="957" width="1" height="2"/>
<rect x="162.0" y="957" width="1" height="2"/>
<rect x="202.0" y="957" width="1" height="2"/>
<rect x="242.0" y="957" width="1" height="2"/>
<rect x="282.0" y="957" width="1" height="2"/>
<rect x="322.0" y="957" width="1" height="2"/>
<rect x="362.0" y="957" width="1" height="2"/>
<rect x="402.0" y="957" width="1" height="2"/>
<rect x="434.0" y="957" width="1" height="2"/>
<rect x="474.0" y="957" width="1" height="2"/>
<rect x="514.0" y="957" width="1" height="2"/>
<rect x="554.0" y="957" width="1" height="2"/>
<rect x="594.0" y="957" width="1" height="2"/>
<rect x="634.0" y="957" width="1" height="2"/>
<rect x="674.0" y="957" width="1" height="2"/>
<rect x="714.0" y="957" width="1" height="2"/>
<rect x="138.0" y="957" width="1" height="3"/>
<rect x="314.0" y="957" width="1" height="3"/>
<rect x="474.0" y="957" width="1" height="3"/>
<rect x="658.0" y="957" width="1" height="3"/>
</g>
<text x="768.5" y="180.2" fill="#000" text-anchor="start" letter-spacing="-0.25">10000.00</text>
<text x="768.5" y="345.7" fill="#000" text-anchor="start" letter-spacing="-0.25">80.00</text>
<text x="768.5" y="371.7" fill="#000" text-anchor="start" letter-spacing="-0.25">60.00</text>
<text x="768.5" y="398.7" fill="#000" text-anchor="start" letter-spacing="-0.25">40.00</text>
<text x="768.5" y="437.7" fill="#000" text-anchor="start" letter-spacing="-0.25">200.00</text>
<text x="768.5" y="473.2" fill="#000" text-anchor="start" letter-spacing="-0.25">0.00</text>
<text x="768.5" y="509.7" fill="#000" text-anchor="start" letter-spacing="-0.25">−200.00</text>
<text x="768.5" y="549.7" fill="#000" text-anchor="start" letter-spacing="-0.25">105.00</text>
<text x="768.5" y="578.7" fill="#000" text-anchor="start" letter-spacing="-0.25">100.00</text>
<text x="768.5" y="607.7" fill="#000" text-anchor="start" letter-spacing="-0.25">95.00</text>
<text x="768.5" y="701.7" fill="#000" text-anchor="start" letter-spacing="-0.25">50.00</text>
<text x="768.5" y="766.7" fill="#000" text-anchor="start" letter-spacing="-0.25">105.00</text>
<text x="768.5" y="795.7" fill="#000" text-anchor="start" letter-spacing="-0.25">100.00</text>
<text x="768.5" y="824.7" fill="#000" text-anchor="start" letter-spacing="-0.25">95.00</text>
<text x="768.5" y="889.7" fill="#000" text-anchor="start" letter-spacing="-0.25">30000.00</text>
<text x="768.5" y="929.7" fill="#000" text-anchor="start" letter-spacing="-0.25">20000.00</text>
<rect x="774" y="238" width="45" height="14" fill="#ff0000" shape-rendering="crispEdges"/>
<text x="774.6" y="250" fill="#fff" letter-spacing="-0.7">8864.16</text>
<path d="M770,261.5 l3.5,-4 l3.5,4 z" fill="#ff0000"/>
<text x="780.3" y="264.4" fill="#ff0000" text-anchor="start" letter-spacing="-0.25">195.30</text>
<text x="775.5" y="278.4" fill="#ff0000" text-anchor="start" letter-spacing="-0.25">2.25</text>
<text x="799.3" y="278.4" fill="#ff0000" textLength="8.3" lengthAdjust="spacingAndGlyphs">%</text>
<rect x="762.5" y="941.5" width="29" height="15" fill="#fff" stroke="#000" stroke-width="1" shape-rendering="crispEdges"/>
<text x="764" y="953.7" fill="#000" text-anchor="start" letter-spacing="-0.25">x100</text>
<text x="9.5" y="115" fill="#000" font-size="14" letter-spacing="0.091">日経平均(指数)</text>
<text x="107" y="115" fill="#000" font-size="13" letter-spacing="-0.391">Bollinger_Bands</text>
<text x="200.6" y="115" fill="#000" font-size="13" letter-spacing="-0.046">(20,2)</text>
<text x="237" y="115" fill="#000" font-size="13" letter-spacing="0.526">2011/09/16</text>
<text x="310.8" y="115" fill="#0a9a3c" font-size="13" letter-spacing="-0.311">8,760.80</text>
<text x="363" y="115" fill="#f0560c" font-size="13" letter-spacing="-0.482">9,052.12</text>
<text x="414.5" y="115" fill="#145cd8" font-size="13" letter-spacing="-0.411">8,469.47</text>
<text x="11.6" y="328" fill="#000" font-size="14" letter-spacing="-1.956">サイコロジカルライン</text>
<text x="137" y="328" fill="#000" font-size="13" letter-spacing="0.404">(12)</text>
<text x="164" y="328" fill="#000" font-size="13" letter-spacing="0.526">2011/09/16</text>
<text x="237.5" y="328" fill="#0a9a3c" font-size="13" letter-spacing="-0.275">50.00</text>
<text x="272.5" y="328" fill="#f0560c" font-size="13" letter-spacing="-0.2">25.00</text>
<text x="308" y="328" fill="#145cd8" font-size="13" letter-spacing="-0.325">75.00</text>
<text x="11" y="435" fill="#000" font-size="13" letter-spacing="-0.868">MACD_EMA_Signal</text>
<text x="121" y="435" fill="#000" font-size="13" letter-spacing="-0.275">(12,26,9)</text>
<text x="173.7" y="435" fill="#000" font-size="13" letter-spacing="0.526">2011/09/16</text>
<text x="247.5" y="435" fill="#0a9a3c" font-size="13" letter-spacing="-0.354">−143.26</text>
<text x="297" y="435" fill="#f0560c" font-size="13" letter-spacing="-0.354">−169.35</text>
<text x="345" y="435" fill="#ff0000" font-size="13" letter-spacing="-0.075">26.10</text>
<text x="380" y="435" fill="#ff00d8" font-size="13" letter-spacing="-0.024">0.00</text>
<text x="11" y="542" fill="#000" font-size="13" letter-spacing="-0.099">Momentum</text>
<text x="78" y="542" fill="#000" font-size="13" letter-spacing="-0.35">(5,5)</text>
<text x="107" y="542" fill="#000" font-size="13" letter-spacing="0.526">2011/09/16</text>
<text x="180" y="542" fill="#0a9a3c" font-size="13" letter-spacing="-0.306">101.45</text>
<text x="222.5" y="542" fill="#f0560c" font-size="13" letter-spacing="-0.45">98.94</text>
<text x="11" y="649" fill="#000" font-size="13" letter-spacing="-0.53">RSI</text>
<text x="34.5" y="649" fill="#000" font-size="13" letter-spacing="0.237">(14)</text>
<text x="61.5" y="649" fill="#000" font-size="13" letter-spacing="0.526">2011/09/16</text>
<text x="135" y="649" fill="#0a9a3c" font-size="13" letter-spacing="-0.45">50.38</text>
<text x="169.5" y="649" fill="#f0560c" font-size="13" letter-spacing="-0.2">30.00</text>
<text x="205" y="649" fill="#145cd8" font-size="13" letter-spacing="-0.325">70.00</text>
<text x="12" y="756" fill="#000" font-size="14" letter-spacing="-1.0">乖離度</text>
<text x="55.5" y="756" fill="#000" font-size="13" letter-spacing="0.404">(20)</text>
<text x="83" y="756" fill="#000" font-size="13" letter-spacing="0.526">2011/09/16</text>
<text x="156" y="756" fill="#0a9a3c" font-size="13" letter-spacing="-0.206">101.18</text>
<text x="199" y="756" fill="#f0560c" font-size="13" letter-spacing="-0.306">100.00</text>
<text x="11" y="863" fill="#000" font-size="14" letter-spacing="0.0">出来高</text>
<text x="56.5" y="863" fill="#000" font-size="13" letter-spacing="0.526">2011/09/16</text>
<text x="130.5" y="863" fill="#0a9a3c" font-size="13" letter-spacing="-0.289">1,926,440.00</text>
<text x="636.9" y="130.5" fill="#ff0000" font-size="13" letter-spacing="-0.988">H:</text>
<text x="653.4" y="130.5" fill="#ff0000" font-size="13" letter-spacing="-0.939">−13.16</text>
<text x="689.5" y="130.5" fill="#ff0000" textLength="9.3" lengthAdjust="spacingAndGlyphs">%</text>
<text x="707.8" y="130.5" fill="#00008c" font-size="13" letter-spacing="-0.83">L:</text>
<text x="722.9" y="130.5" fill="#00008c" font-size="13" letter-spacing="-0.857">4.29</text>
<text x="746.5" y="130.5" fill="#00008c" textLength="8.000000000000046" lengthAdjust="spacingAndGlyphs">%</text>
<path d="M366.5,158.5 H355 M359,155 L355,158.5 L359,162" stroke="#ff0000" fill="none" stroke-width="1"/>
<text x="374" y="165.5" fill="#ff0000" font-size="13" letter-spacing="-0.425">10,207.91</text>
<text x="432.6" y="165.5" fill="#ff0000" font-size="13" letter-spacing="0.634">(2011/07/08)</text>
<text x="565.5" y="294.5" fill="#00008c" font-size="13" letter-spacing="-0.339">8,499.34</text>
<text x="618" y="294.5" fill="#00008c" font-size="13" letter-spacing="0.597">(2011/09/14)</text>
<path d="M715,286.5 H729 M725,283 L729,286.5 L725,290" stroke="#00008c" fill="none" stroke-width="1"/>
<g shape-rendering="crispEdges"><rect x="736.5" y="315.5" width="8" height="8" fill="#fff" stroke="#808080"/><rect x="746.5" y="315.5" width="8" height="8" fill="#fff" stroke="#808080"/><rect x="738" y="319" width="5" height="1" fill="#000"/></g>
<path d="M748.2,317.2 l4.6,4.6 M752.8,317.2 l-4.6,4.6" stroke="#000" stroke-width="0.9" fill="none"/>
<g shape-rendering="crispEdges"><rect x="736.5" y="422.5" width="8" height="8" fill="#fff" stroke="#808080"/><rect x="746.5" y="422.5" width="8" height="8" fill="#fff" stroke="#808080"/><rect x="738" y="426" width="5" height="1" fill="#000"/></g>
<path d="M748.2,424.2 l4.6,4.6 M752.8,424.2 l-4.6,4.6" stroke="#000" stroke-width="0.9" fill="none"/>
<g shape-rendering="crispEdges"><rect x="736.5" y="529.5" width="8" height="8" fill="#fff" stroke="#808080"/><rect x="746.5" y="529.5" width="8" height="8" fill="#fff" stroke="#808080"/><rect x="738" y="533" width="5" height="1" fill="#000"/></g>
<path d="M748.2,531.2 l4.6,4.6 M752.8,531.2 l-4.6,4.6" stroke="#000" stroke-width="0.9" fill="none"/>
<g shape-rendering="crispEdges"><rect x="736.5" y="636.5" width="8" height="8" fill="#fff" stroke="#808080"/><rect x="746.5" y="636.5" width="8" height="8" fill="#fff" stroke="#808080"/><rect x="738" y="640" width="5" height="1" fill="#000"/></g>
<path d="M748.2,638.2 l4.6,4.6 M752.8,638.2 l-4.6,4.6" stroke="#000" stroke-width="0.9" fill="none"/>
<g shape-rendering="crispEdges"><rect x="736.5" y="743.5" width="8" height="8" fill="#fff" stroke="#808080"/><rect x="746.5" y="743.5" width="8" height="8" fill="#fff" stroke="#808080"/><rect x="738" y="747" width="5" height="1" fill="#000"/></g>
<path d="M748.2,745.2 l4.6,4.6 M752.8,745.2 l-4.6,4.6" stroke="#000" stroke-width="0.9" fill="none"/>
<g shape-rendering="crispEdges"><rect x="736.5" y="850.5" width="8" height="8" fill="#fff" stroke="#808080"/><rect x="746.5" y="850.5" width="8" height="8" fill="#fff" stroke="#808080"/><rect x="738" y="854" width="5" height="1" fill="#000"/></g>
<path d="M748.2,852.2 l4.6,4.6 M752.8,852.2 l-4.6,4.6" stroke="#000" stroke-width="0.9" fill="none"/>
<text x="41.0" y="974" text-anchor="middle" letter-spacing="-0.25">16</text>
<text x="81.0" y="974" text-anchor="middle" letter-spacing="-0.25">23</text>
<text x="121.0" y="974" text-anchor="middle" letter-spacing="-0.25">30</text>
<text x="161.0" y="974" text-anchor="middle" letter-spacing="-0.25">06</text>
<text x="201.0" y="974" text-anchor="middle" letter-spacing="-0.25">13</text>
<text x="241.0" y="974" text-anchor="middle" letter-spacing="-0.25">20</text>
<text x="281.0" y="974" text-anchor="middle" letter-spacing="-0.25">27</text>
<text x="361.0" y="974" text-anchor="middle" letter-spacing="-0.25">11</text>
<text x="401.0" y="974" text-anchor="middle" letter-spacing="-0.25">19</text>
<text x="433.0" y="974" text-anchor="middle" letter-spacing="-0.25">25</text>
<text x="513.0" y="974" text-anchor="middle" letter-spacing="-0.25">08</text>
<text x="553.0" y="974" text-anchor="middle" letter-spacing="-0.25">15</text>
<text x="593.0" y="974" text-anchor="middle" letter-spacing="-0.25">22</text>
<text x="633.0" y="974" text-anchor="middle" letter-spacing="-0.25">29</text>
<text x="673.0" y="974" text-anchor="middle" letter-spacing="-0.25">05</text>
<text x="137.0" y="974" text-anchor="middle" letter-spacing="-0.25" font-weight="bold">J</text>
<text x="313.0" y="974" text-anchor="middle" letter-spacing="-0.25" font-weight="bold">J</text>
<text x="473.0" y="974" text-anchor="middle" letter-spacing="-0.25" font-weight="bold">A</text>
<text x="657.0" y="974" text-anchor="middle" letter-spacing="-0.25" font-weight="bold">S</text>
</svg>
</body></html>
